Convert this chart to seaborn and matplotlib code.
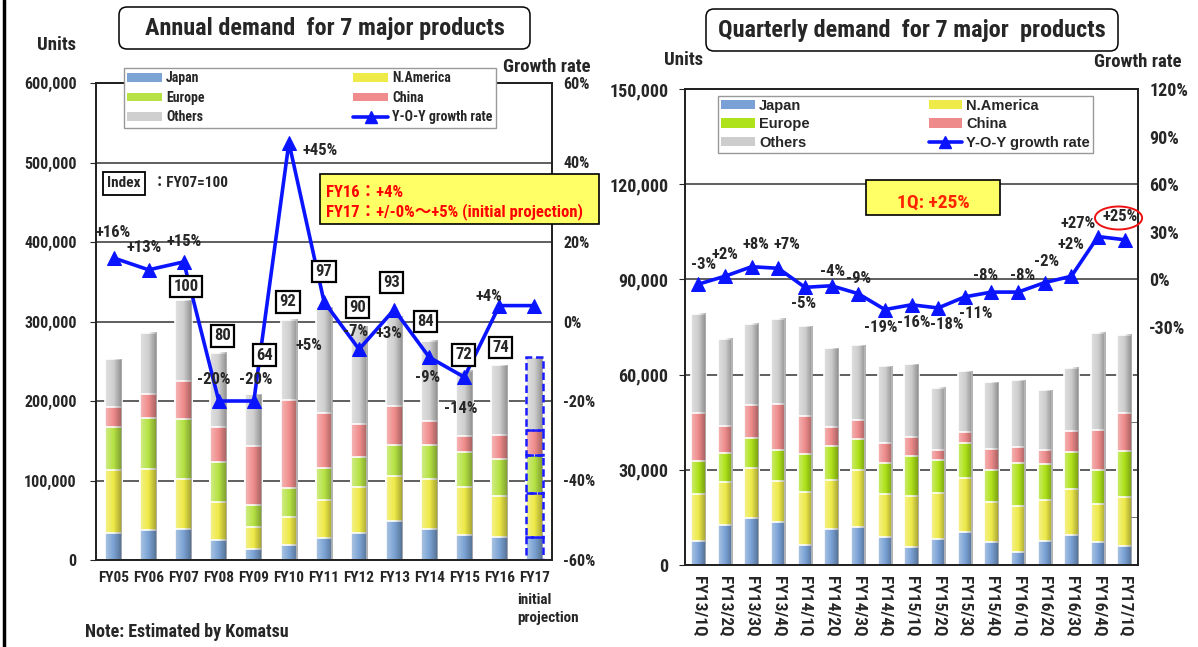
import numpy as np
import matplotlib
matplotlib.use("Agg")
import matplotlib.pyplot as plt
import matplotlib.patches as patches
from matplotlib.lines import Line2D
from matplotlib.ticker import FuncFormatter, FixedLocator
import seaborn as sns

# ---------------- annual demand (units) ----------------
years = ["FY05", "FY06", "FY07", "FY08", "FY09", "FY10", "FY11",
         "FY12", "FY13", "FY14", "FY15", "FY16", "FY17"]
japan_y = [33500, 37700, 39400, 25200, 13800, 18500, 27700, 34400, 48700, 38600, 31900, 29400, 29400]
namerica_y = [79700, 76300, 62100, 47800, 28100, 36000, 47800, 57000, 57000, 63700, 60300, 51100, 54500]
europe_y = [54500, 65000, 76200, 50300, 27700, 36100, 40200, 37800, 39300, 41900, 43600, 46500, 48100]
china_y = [25100, 29800, 47300, 43600, 73800, 110700, 69600, 41500, 49100, 30600, 20200, 29800, 31500]
others_y = [59700, 77200, 102000, 93900, 65400, 100600, 132500, 123600, 111900, 101100, 82200, 88100, 91500]
growth_y = [16, 13, 15, -20, -20, 45, 5, -7, 3, -9, -14, 4, 4]
index_y = [None, None, 100, 80, 64, 92, 97, 90, 93, 84, 72, 74, None]

# ---------------- quarterly demand (units) ----------------
quarters = ["FY13/1Q", "FY13/2Q", "FY13/3Q", "FY13/4Q", "FY14/1Q", "FY14/2Q",
            "FY14/3Q", "FY14/4Q", "FY15/1Q", "FY15/2Q", "FY15/3Q", "FY15/4Q",
            "FY16/1Q", "FY16/2Q", "FY16/3Q", "FY16/4Q", "FY17/1Q"]
japan_q = [7600, 12600, 14900, 13600, 6300, 11400, 12000, 8700, 5700, 8300, 10500, 7100, 4200, 7500, 9400, 7100, 6000]
namerica_q = [14700, 13600, 15700, 13000, 16800, 15500, 17800, 13800, 16200, 14500, 17000, 12700, 14400, 12900, 14600, 12000, 15400]
europe_q = [10600, 9100, 9400, 9500, 11900, 10600, 10000, 9600, 12300, 10300, 10900, 10000, 13500, 11300, 11700, 10700, 14400]
china_q = [15100, 8400, 10400, 14600, 11800, 5900, 6000, 6500, 6200, 3200, 3500, 6900, 5000, 4400, 6600, 12700, 12000]
others_q = [31100, 27600, 25700, 26900, 28400, 24900, 23400, 24000, 22800, 19600, 19200, 20900, 21100, 19000, 19900, 30700, 24800]
growth_q = [-3, 2, 8, 7, -5, -4, -9, -19, -16, -18, -11, -8, -8, -2, 2, 27, 25]

region_names = ["Japan", "N.America", "Europe", "China", "Others"]

# label placement (offsets from the point: categories, growth %)
lab_dx_y = [0, -0.14, 0, -0.14, 0.05, 0.9, -0.43, -0.1, -0.14, -0.05, -0.1, -0.29]
lab_dy_y = [6.4, 5.5, 5.1, 5.3, 5.3, -2, -11.1, 4.5, -5.9, -5.2, -8, 2.3]
idx_dx = [0, 0, 0.07, 0.11, 0.3, -0.03, 0, -0.05, -0.07, -0.1, -0.02, 0.03, 0]
idx_dy = [0, 0, 17000, 21000, 49000, 23000, 45000, 23500, 43000, 24000, 20000, 22600, 0]
lab_dx_q = [0.2, 0, 0.15, 0.33, -0.04, 0.03, 0, -0.15, 0.1, 0.33, 0.4, -0.23, 0.15, 0.05, 0, -0.74, -0.18]
lab_dy_q = [12.4, 13.8, 14.1, 15.1, -10.4, 9.2, 9.4, -11.5, -11, -10.4, -10.7, 10.5, 10.5, 13.4, 20, 8.2, 14.8]

sns.set_style("white")
NARROW = ["Roboto Condensed", "Liberation Sans", "DejaVu Sans", "Noto Sans CJK JP"]
plt.rcParams["font.family"] = NARROW
plt.rcParams["font.weight"] = "bold"
plt.rcParams["axes.labelweight"] = "bold"

W, H = 1198, 647
fig = plt.figure(figsize=(W / 100, H / 100), dpi=100)
fig.patch.set_facecolor("white")


def fx(px):
    return px / W


def fy(py):
    return 1 - py / H


# light on the left, dark on the right, like the original bars
t = np.linspace(0, 1, 64)
SHADE = np.zeros((1, 64, 4))
SHADE[0, :, :3] = np.where(t < 0.5, 1.0, 0.0)[:, None]
SHADE[0, :, 3] = np.where(t < 0.5, 0.38 * (1 - 2 * t), 0.32 * (2 * t - 1))


def stacked_bars(ax, cats, layers, colors, width):
    cum = np.cumsum(np.array(layers, dtype=float), axis=0)
    full = None
    for k in range(len(layers) - 1, -1, -1):
        sns.barplot(x=cats, y=cum[k], color=colors[k], width=width, errorbar=None,
                    saturation=1, edgecolor="white", linewidth=1.2, ax=ax)
        if full is None:
            full = list(ax.patches)
    for p in full:
        x0, w, h = p.get_x(), p.get_width(), p.get_height()
        ax.imshow(SHADE, extent=[x0, x0 + w, 0, h], aspect="auto",
                  interpolation="bilinear", zorder=1.5)
    return cum


def style_axes(ax, ax2):
    for a in (ax, ax2):
        for s in a.spines.values():
            s.set_color("#222222")
            s.set_linewidth(1.3)
    ax.set_axisbelow(True)
    ax.yaxis.grid(True, color="#333333", linewidth=1.1)
    ax.set_xlabel("")
    ax.set_ylabel("")
    ax2.set_ylabel("")


# =============== left chart: annual ===============
colors_y = ["#7ba3d4", "#eeea48", "#b6e244", "#f08c8c", "#cfcfcf"]
ax = fig.add_axes([fx(96), fy(560), fx(552 - 96), (560 - 83) / H])
ax2 = ax.twinx()
cum_y = stacked_bars(ax, years, [japan_y, namerica_y, europe_y, china_y, others_y], colors_y, 0.48)
totals_y = cum_y[-1]

# projected FY17 bar in dashed blue
n = len(years)
for k in range(len(region_names)):
    lo = cum_y[k - 1][n - 1] if k > 0 else 0
    ax.add_patch(patches.Rectangle((n - 1 - 0.24, lo), 0.48, cum_y[k][n - 1] - lo, fill=False,
                                   edgecolor="#1a1aff", linestyle=(0, (3, 1.5)), linewidth=1.8, zorder=3))

sns.lineplot(x=np.arange(n), y=growth_y, ax=ax2, color="#0a14ff", linewidth=2.6,
             marker="^", markersize=10, markeredgecolor="#0a14ff")

ax.set_xlim(-0.5, n - 0.5)
ax.set_ylim(0, 600000)
ax2.set_ylim(-60, 60)
ax.yaxis.set_major_locator(FixedLocator(np.arange(0, 600001, 100000)))
ax.yaxis.set_major_formatter(FuncFormatter(lambda v, p: f"{v:,.0f}"))
ax2.yaxis.set_major_locator(FixedLocator(np.arange(-60, 61, 20)))
ax2.yaxis.set_major_formatter(FuncFormatter(lambda v, p: f"{v:.0f}%"))
ax.set_xticks(np.arange(n))
ax.set_xticklabels(years)
ax.set_xticks(np.arange(n + 1) - 0.5, minor=True)
ax.tick_params(axis="x", which="major", length=0, labelsize=11, pad=8)
ax.tick_params(axis="x", which="minor", direction="in", length=4, color="#555555")
ax.tick_params(axis="y", length=4, labelsize=11.5, pad=10)
ax2.tick_params(axis="y", length=0, labelsize=11.5, pad=8)
style_axes(ax, ax2)
ax2.text(n - 1.48, -0.07, "initial\nprojection", transform=ax.get_xaxis_transform(),
         ha="left", va="top", fontsize=11, linespacing=1.3)

for i, g in enumerate(growth_y[:-1]):
    ax2.text(i + lab_dx_y[i], g + lab_dy_y[i], f"{g:+d}%", ha="center", va="center", fontsize=12)
for i, v in enumerate(index_y):
    if v is None:
        continue
    ax2.text(i + idx_dx[i], totals_y[i] + idx_dy[i], str(v), transform=ax.transData,
             ha="center", va="center", fontsize=12, zorder=5,
             bbox=dict(boxstyle="square,pad=0.2", fc="white", ec="black", lw=1.6))

ax2.text(0.3, 473600, "Index", transform=ax.transData, ha="center", va="center", fontsize=11,
         bbox=dict(boxstyle="square,pad=0.28", fc="white", ec="black", lw=1.3))
ax2.text(1.1, 473600, "：FY07=100", transform=ax.transData, ha="left", va="center", fontsize=11)

ax2.add_patch(patches.Rectangle((5.88, 422600), 7.97, 62900, transform=ax.transData,
                                fc="#ffff66", ec="black", lw=1.2, clip_on=False, zorder=4))
ax2.text(6.05, 462000, "FY16：+4%", transform=ax.transData, color="#ff0000",
         ha="left", va="center", fontsize=12, zorder=5)
ax2.text(6.05, 438000, "FY17：+/-0%～+5% (initial projection)", transform=ax.transData,
         color="#ff0000", ha="left", va="center", fontsize=12, zorder=5)

handles_y = [patches.Patch(facecolor=c, edgecolor="none") for c in colors_y]
line_h = Line2D([0], [0], color="#0a14ff", lw=2.6, marker="^", markersize=8)
order = [0, 2, 4, 1, 3]
leg = ax2.legend([handles_y[k] for k in order] + [line_h],
                 [region_names[k] for k in order] + ["Y-O-Y growth rate"],
                 ncol=2, loc="lower left", bbox_to_anchor=(0.061, 0.906, 0.816, 0.125), mode="expand",
                 borderaxespad=0, fancybox=False, framealpha=1, edgecolor="#999999",
                 fontsize=10, handlelength=2.5, handleheight=0.6, labelspacing=0.4,
                 borderpad=0.25, handletextpad=0.3)
leg.get_frame().set_linewidth(1.0)
leg.set_zorder(6)

# =============== right chart: quarterly ===============
colors_q = ["#79a1d5", "#eeea4a", "#aee21a", "#ee8a8a", "#cdcdcd"]
bx = fig.add_axes([fx(685), fy(565), fx(1138 - 685), (565 - 89) / H])
bx2 = bx.twinx()
m = len(quarters)
cum_q = stacked_bars(bx, quarters, [japan_q, namerica_q, europe_q, china_q, others_q], colors_q, 0.54)
sns.lineplot(x=np.arange(m), y=growth_q, ax=bx2, color="#0a14ff", linewidth=2.6,
             marker="^", markersize=10, markeredgecolor="#0a14ff")

bx.set_xlim(-0.5, m - 0.5)
bx.set_ylim(0, 150000)
bx2.set_ylim(-180, 120)
bx.yaxis.set_major_locator(FixedLocator(np.arange(0, 150001, 30000)))
bx.yaxis.set_major_formatter(FuncFormatter(lambda v, p: f"{v:,.0f}"))
bx2.yaxis.set_major_locator(FixedLocator(np.arange(-30, 121, 30)))
bx2.yaxis.set_major_formatter(FuncFormatter(lambda v, p: f"{v:.0f}%"))
bx2.yaxis.set_minor_locator(FixedLocator([-150, -90, -30, 30, 90]))
bx.set_xticks(np.arange(m))
bx.set_xticklabels(quarters, rotation=270)
bx.set_xticks(np.arange(m + 1) - 0.5, minor=True)
bx.tick_params(axis="x", which="major", length=0, labelsize=12.5, pad=8)
bx.tick_params(axis="x", which="minor", direction="in", length=4, color="#555555")
bx.tick_params(axis="y", length=4, labelsize=13, pad=8)
bx2.tick_params(axis="y", which="major", length=0, labelsize=13, pad=8)
bx2.tick_params(axis="y", which="minor", direction="in", length=5, color="#555555")
style_axes(bx, bx2)

for i, g in enumerate(growth_q):
    bx2.text(i + lab_dx_q[i], g + lab_dy_q[i], f"{g:+d}%", ha="center", va="center", fontsize=12)
bx2.add_patch(patches.Ellipse((m - 1 - 0.23, 38.7), 1.77, 14.5, fill=False, ec="#ee1111",
                              lw=1.4, clip_on=False, zorder=5))
bx2.add_patch(patches.Rectangle((6.29, 40.4), 5.04, 22.1, fc="#ffff66", ec="black",
                                lw=1.2, zorder=4))
bx2.text(8.81, 48.3, "1Q: +25%", color="#ff2200", ha="center", va="center", fontsize=14, zorder=5)

handles_q = [patches.Patch(facecolor=c, edgecolor="none") for c in colors_q]
leg2 = bx2.legend([handles_q[k] for k in order] + [line_h],
                  [region_names[k] for k in order] + ["Y-O-Y growth rate"],
                  ncol=2, loc="lower left", bbox_to_anchor=(0.073, 0.866, 0.828, 0.136), mode="expand",
                  borderaxespad=0, fancybox=False, framealpha=1, edgecolor="#999999",
                  prop={"family": ["Liberation Sans", "DejaVu Sans"], "weight": "bold", "size": 10.5},
                  handlelength=2.3, handleheight=0.6, labelspacing=0.32,
                  borderpad=0.2, handletextpad=0.3)
leg2.get_frame().set_linewidth(1.0)
leg2.set_zorder(6)

# =============== titles and surrounding text ===============
for (x0, y0, x1, y1), title in [((119, 7, 530, 49), "Annual demand  for 7 major products"),
                                ((706, 9, 1118, 51), "Quarterly demand  for 7 major  products")]:
    box = patches.FancyBboxPatch((x0 / 100, (H - y1) / 100), (x1 - x0) / 100, (y1 - y0) / 100,
                                 boxstyle="round,pad=0,rounding_size=0.08",
                                 transform=fig.dpi_scale_trans, fc="white", ec="black", lw=1.1)
    fig.patches.append(box)
    fig.text(fx((x0 + x1) / 2), fy((y0 + y1) / 2), title, ha="center", va="center", fontsize=17.5)

fig.text(fx(57), fy(45), "Units", ha="center", va="center", fontsize=13.5)
fig.text(fx(547), fy(67), "Growth rate", ha="center", va="center", fontsize=13.5)
fig.text(fx(683), fy(60), "Units", ha="center", va="center", fontsize=13.5)
fig.text(fx(1138), fy(62), "Growth rate", ha="center", va="center", fontsize=13.5)
fig.text(fx(85), fy(632), "Note: Estimated by Komatsu", ha="left", va="center", fontsize=13)
fig.add_artist(Line2D([fx(4), fx(4)], [0, 1], color="black", lw=2.5))

fig.savefig("out.png", dpi=100)
